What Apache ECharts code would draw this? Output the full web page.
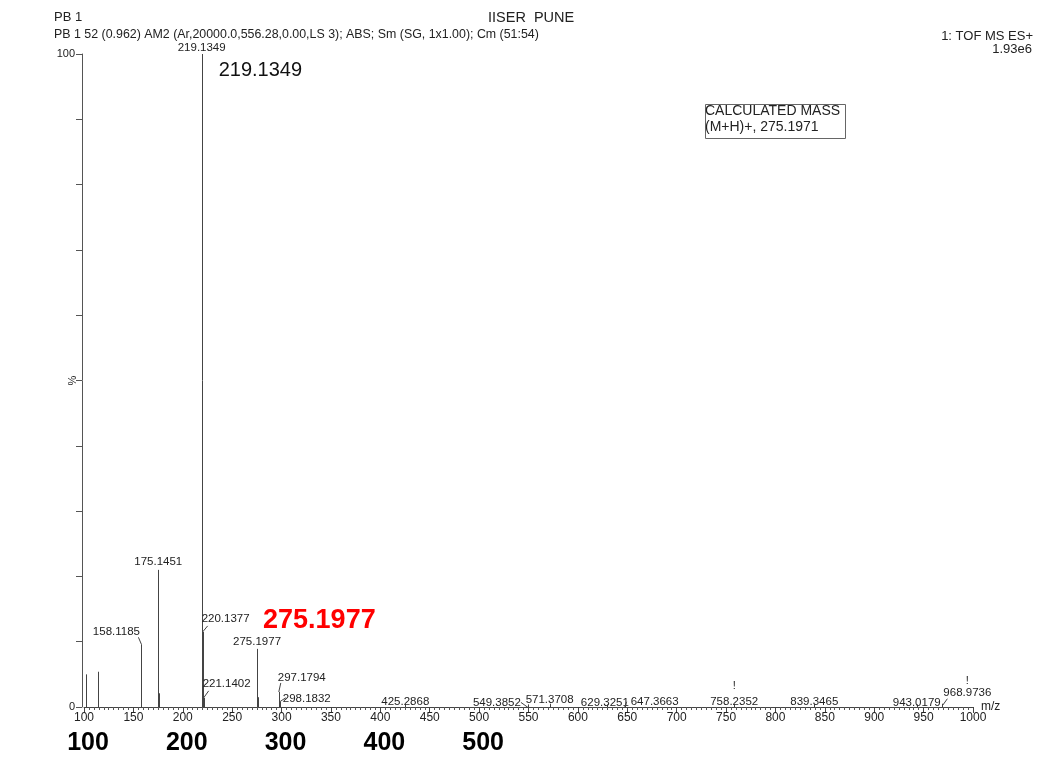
<!DOCTYPE html>
<html><head><meta charset="utf-8">
<script src="https://cdn.jsdelivr.net/npm/echarts@6/dist/echarts.min.js"></script>
<style>html,body{margin:0;padding:0;background:#fff}#c{width:1039px;height:757px}</style>
</head><body><div id="c"></div>
<script>
// ---- data ----
const peakMz = [102.1, 114.5, 158.1185, 175.1451, 176.15, 219.1349, 220.1377, 221.1402, 275.1977, 276.20, 297.1794, 298.1832, 425.2868, 549.3852, 571.3708, 629.3251, 647.3663, 758.2352, 839.3465, 943.0179, 968.9736];
const peakIntensity = [5.0, 5.4, 9.6, 21.0, 2.1, 100, 11.5, 1.4, 8.9, 1.5, 2.3, 0.8, 0.4, 0.4, 0.5, 0.4, 0.5, 0.4, 0.4, 0.4, 0.5];
const peakLabels = ['', '', '158.1185', '175.1451', '', '219.1349', '220.1377', '221.1402', '275.1977', '', '297.1794', '298.1832', '425.2868', '549.3852', '571.3708', '629.3251', '647.3663', '758.2352', '839.3465', '943.0179', '968.9736'];
const annotationText = ['219.1349', '275.1977'];
const annotationMz = [219.1349, 275.1977];
const annotationIntensity = [100, 8.9];
const bigAxisLabels = [100, 200, 300, 400, 500];
const yLabelValues = [0, 100];

// ---- label layout (pixel offsets from the peak top) ----
const labelLayout = {
  '158.1185': {dx: -25, dy: -12, lead: [-3, -7, 0, 0]},
  '175.1451': {dx: 0, dy: -8},
  '219.1349': {dx: 0, dy: -6},
  '220.1377': {dx: 23, dy: -13, lead: [5, -6, 0, 0]},
  '221.1402': {dx: 23, dy: -14, lead: [5, -7, 0, 0]},
  '275.1977': {dx: 0, dy: -7},
  '297.1794': {dx: 23, dy: -14, lead: [2, -9, 0, 0]},
  '298.1832': {dx: 27, dy: -3, lead: [6, -4, 0, 0]},
  '425.2868': {dx: 0, dy: -3},
  '549.3852': {dx: -31, dy: -2, lead: [-7, -2, 0, 3]},
  '571.3708': {dx: 0, dy: -4},
  '629.3251': {dx: -2, dy: -2},
  '647.3663': {dx: 30, dy: -2, lead: [2, -2, 0, 3]},
  '758.2352': {dx: 0, dy: -3, bang: -15},
  '839.3465': {dx: 0, dy: -3},
  '943.0179': {dx: 0, dy: -2},
  '968.9736': {dx: 25, dy: -11, lead: [5, -5, 0, 2], bang: -12}
};
const FONT = '"Liberation Sans", Arial, sans-serif';
const annotationStyle = [
  {dx: 17, dy: 16, font: '20px ' + FONT, fill: '#111'},
  {dx: 6, dy: -28, font: 'bold 27px ' + FONT, fill: '#ff0000'}
];

const chart = echarts.init(document.getElementById('c'), null, {renderer: 'canvas'});

function px(v) { return Math.round(v) + 0.5; }

function renderPeak(params, api) {
  const mz = api.value(0), inten = api.value(1), idx = api.value(2);
  const top = api.coord([mz, inten]);
  const base = api.coord([mz, 0]);
  const x = px(top[0]);
  const children = [{
    type: 'line',
    shape: {x1: x, y1: base[1], x2: x, y2: top[1]},
    style: {stroke: '#444', lineWidth: 1}
  }];
  const lab = peakLabels[idx];
  if (lab) {
    const L = labelLayout[lab];
    const cx = top[0] + L.dx, cy = top[1] + L.dy;
    children.push({
      type: 'text',
      style: {text: lab, x: cx, y: cy, align: 'center', verticalAlign: 'middle',
              font: '11.5px ' + FONT, fill: '#222'}
    });
    if (L.lead) {
      children.push({
        type: 'line',
        shape: {x1: top[0] + L.lead[0], y1: top[1] + L.lead[1], x2: top[0] + L.lead[2], y2: top[1] + L.lead[3]},
        style: {stroke: '#444', lineWidth: 1}
      });
    }
    if (L.bang) {
      children.push({
        type: 'text',
        style: {text: '!', x: cx, y: cy + L.bang, align: 'center', verticalAlign: 'middle',
                font: '11px ' + FONT, fill: '#222'}
      });
    }
  }
  return {type: 'group', children: children};
}

function renderAnnotation(params, api) {
  const i = api.value(2);
  const top = api.coord([api.value(0), api.value(1)]);
  const s = annotationStyle[i];
  return {
    type: 'text',
    style: {text: annotationText[i], x: top[0] + s.dx, y: top[1] + s.dy,
            align: 'left', verticalAlign: 'middle', font: s.font, fill: s.fill}
  };
}

const option = {
  backgroundColor: '#fff',
  animation: false,
  grid: {left: 84, right: 66, top: 54, bottom: 50},
  xAxis: [{
    type: 'value', min: 100, max: 1000, interval: 50, position: 'bottom',
    axisLine: {show: true, onZero: false, lineStyle: {color: '#444', width: 1}},
    axisTick: {show: true, inside: false, length: 6, lineStyle: {color: '#444'}},
    minorTick: {show: true, splitNumber: 10, length: 3, lineStyle: {color: '#555'}},
    splitLine: {show: false},
    axisLabel: {fontSize: 12, color: '#222', margin: 5, fontFamily: FONT,
                formatter: function (v) { return String(v); }},
    name: 'm/z', nameLocation: 'end', nameGap: 8, nameMoveOverlap: false,
    nameTextStyle: {fontSize: 12, color: '#222', fontFamily: FONT, verticalAlign: 'middle', align: 'left'}
  }, {
    type: 'value', min: 100, max: 1000, interval: 100, position: 'bottom',
    axisLine: {show: false}, axisTick: {show: false}, splitLine: {show: false},
    axisLabel: {
      margin: 24, fontSize: 25, fontWeight: 'bold', color: '#000', fontFamily: FONT,
      padding: [0, 0, 0, 8],
      formatter: function (v) { return bigAxisLabels.indexOf(v) >= 0 ? String(v) : ''; }
    }
  }],
  yAxis: {
    type: 'value', min: 0, max: 100, interval: 10, position: 'left', offset: 2,
    axisLine: {show: true, lineStyle: {color: '#555', width: 1}},
    axisTick: {show: true, inside: false, length: 6, lineStyle: {color: '#555'}},
    splitLine: {show: false},
    axisLabel: {
      fontSize: 11, color: '#222', margin: 7, fontFamily: FONT,
      formatter: function (v) { return yLabelValues.indexOf(v) >= 0 ? String(v) : ''; }
    },
    name: '%', nameLocation: 'middle', nameGap: 4, nameRotate: 90, nameMoveOverlap: false,
    nameTextStyle: {fontSize: 11, color: '#222', fontFamily: FONT}
  },
  series: [{
    type: 'custom', xAxisIndex: 0, clip: false,
    renderItem: renderPeak,
    data: peakMz.map(function (m, i) { return [m, peakIntensity[i], i]; })
  }, {
    type: 'custom', xAxisIndex: 0, clip: false,
    renderItem: renderAnnotation,
    data: annotationMz.map(function (m, i) { return [m, annotationIntensity[i], i]; })
  }],
  graphic: [
    {type: 'text', left: 54, top: 11, style: {text: 'PB 1', font: '13px ' + FONT, fill: '#222'}},
    {type: 'text', left: 488, top: 10, style: {text: 'IISER  PUNE', font: '14.5px ' + FONT, fill: '#222'}},
    {type: 'text', left: 54, top: 29, style: {text: 'PB 1 52 (0.962) AM2 (Ar,20000.0,556.28,0.00,LS 3); ABS; Sm (SG, 1x1.00); Cm (51:54)', font: '12.4px ' + FONT, fill: '#222'}},
    {type: 'text', right: 6, top: 30, style: {text: '1: TOF MS ES+', font: '13px ' + FONT, fill: '#222', align: 'right'}},
    {type: 'text', right: 7, top: 43, style: {text: '1.93e6', font: '13px ' + FONT, fill: '#222', align: 'right'}},
    {type: 'rect', left: 703, top: 102, shape: {width: 140, height: 34}, style: {fill: 'none', stroke: '#666', lineWidth: 1}},
    {type: 'text', left: 705, top: 104, style: {text: 'CALCULATED MASS', font: '14px ' + FONT, fill: '#222'}},
    {type: 'text', left: 705, top: 120, style: {text: '(M+H)+, 275.1971', font: '14px ' + FONT, fill: '#222'}}
  ]
};
chart.setOption(option);
</script>
</body></html>
